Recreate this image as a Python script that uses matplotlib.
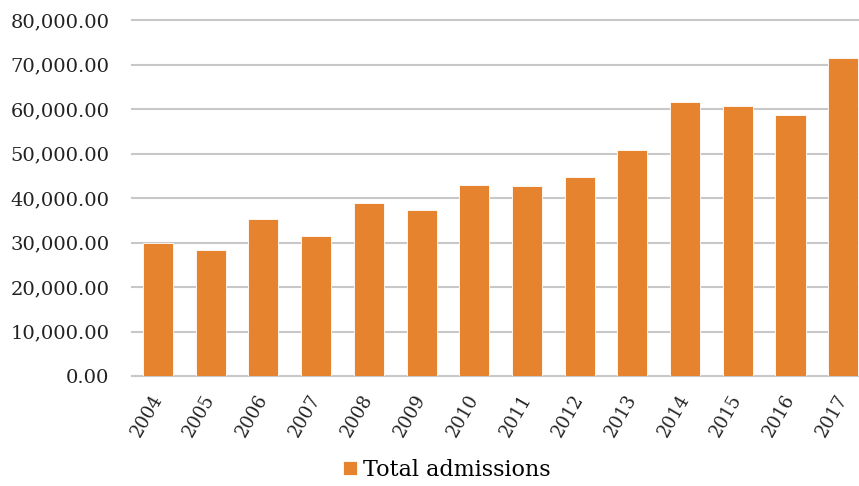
import matplotlib
matplotlib.use("Agg")
import matplotlib.pyplot as plt
from matplotlib.ticker import FuncFormatter

years = ["2004", "2005", "2006", "2007", "2008", "2009", "2010",
         "2011", "2012", "2013", "2014", "2015", "2016", "2017"]
admissions = [29960, 28240, 35210, 31390, 38810, 37300, 42850,
              42630, 44650, 50720, 61570, 60670, 58650, 71530]
series_name = "Total admissions"
yticks = [0, 10000, 20000, 30000, 40000, 50000, 60000, 70000, 80000]

plt.rcParams['font.family'] = ['DejaVu Serif']

fig = plt.figure(figsize=(8.59, 4.86), dpi=100)
ax = fig.add_axes([0.1533, 0.2263, 1.0123 - 0.1533, 0.9588 - 0.2263])

x = list(range(len(years)))
ax.bar(x, admissions, width=0.57, color="#E6832F", edgecolor="white",
       linewidth=0.6, label=series_name, zorder=3)

ax.set_xlim(-0.5, len(years) - 0.5)
ax.set_ylim(0, 80000)
ax.set_yticks(yticks)
ax.yaxis.set_major_formatter(FuncFormatter(lambda v, p: f"{v:,.2f}"))
ax.grid(axis="y", color="#C8C8C8", linewidth=1.5, zorder=0)
for line in ax.get_ygridlines():
    line.set_clip_on(False)
for s in ax.spines.values():
    s.set_visible(False)
ax.tick_params(axis="both", length=0, colors="#222222")
ax.tick_params(axis="y", pad=16, labelsize=14)
ax.set_xticks(x)
ax.set_xticklabels(years, rotation=60, ha="right", va="center",
                   rotation_mode="anchor")
ax.tick_params(axis="x", pad=14, labelsize=13)

fig.legend(loc="center", bbox_to_anchor=(447 / 859, 1 - 470 / 486),
           frameon=False, fontsize=16, handlelength=0.6, handleheight=0.6,
           handletextpad=0.3)

fig.savefig("out.png", dpi=100)
